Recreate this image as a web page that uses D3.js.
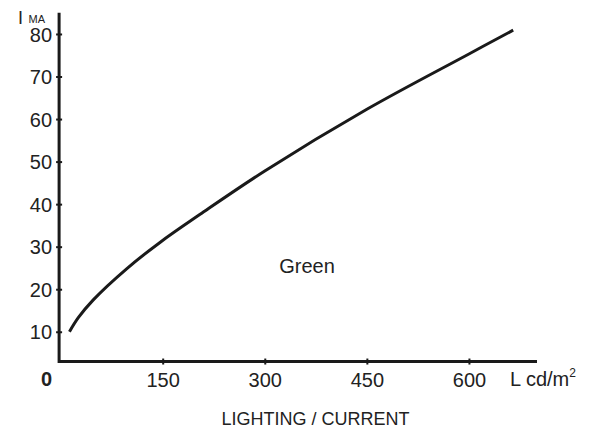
<!DOCTYPE html>
<html>
<head>
<meta charset="utf-8">
<script src="https://cdn.jsdelivr.net/npm/d3@7"></script>
<style>
  body { margin: 0; background: #fff; }
  svg { display: block; font-family: "Liberation Sans", Arial, sans-serif; }
</style>
</head>
<body>
<svg id="chart" width="591" height="431"></svg>
<script>
// luminance (cd/m2) vs current (mA)
const lumValues = [13, 26, 48, 97, 146, 205, 300, 450, 600, 665];
const currentValues = [10, 13.3, 17.5, 24.8, 31.0, 37.6, 47.8, 62.3, 75.3, 80.9];
const xTicks = [150, 300, 450, 600];
const yTicks = [10, 20, 30, 40, 50, 60, 70, 80];

const svg = d3.select("#chart");
const ink = "#1a1a1a";

const x = d3.scaleLinear().domain([0, 700]).range([60.6, 537]);
const y = d3.scaleLinear().domain([0, 85]).range([374.3, 12.7]);
const axisY = y(3); // x axis sits slightly above zero

// x axis
const gx = svg.append("g")
    .attr("transform", "translate(0," + axisY + ")")
    .call(d3.axisBottom(x).tickValues(xTicks).tickSizeInner(3).tickSizeOuter(0));
gx.select(".domain").attr("d", "M" + (x(0) - 2) + ",0H" + x(700))
    .attr("stroke", ink).attr("stroke-width", 3);
gx.selectAll(".tick line").attr("y1", -3).attr("y2", 3)
    .attr("stroke", ink).attr("stroke-width", 2);
gx.selectAll(".tick text")
    .attr("y", 25).attr("dy", null)
    .attr("font-size", 20).attr("fill", "#222");

// y axis
const gy = svg.append("g")
    .attr("transform", "translate(" + (x(0) - 1.5) + ",0)")
    .call(d3.axisLeft(y).tickValues(yTicks).tickSizeInner(3).tickSizeOuter(0));
gy.select(".domain").attr("d", "M0," + (axisY + 1.5) + "V" + y(85))
    .attr("stroke", ink).attr("stroke-width", 3);
gy.selectAll(".tick line").attr("x1", -3).attr("x2", 3)
    .attr("stroke", ink).attr("stroke-width", 2);
gy.selectAll(".tick text")
    .attr("x", -7).attr("dy", "0.36em")
    .attr("font-size", 20).attr("fill", "#222");

// origin label
svg.append("text")
    .attr("x", 46.5).attr("y", 386)
    .attr("text-anchor", "middle")
    .attr("font-size", 20).attr("font-weight", "bold").attr("fill", "#222")
    .text("0");

// axis titles
svg.append("text")
    .attr("x", 18).attr("y", 23.5)
    .attr("font-size", 18).attr("fill", "#222")
    .text("I");
svg.append("text")
    .attr("x", 28.5).attr("y", 23)
    .attr("font-size", 11).attr("fill", "#222")
    .text("MA");

const lab = svg.append("text")
    .attr("x", 510).attr("y", 386)
    .attr("font-size", 20).attr("fill", "#222")
    .text("L cd/m");
lab.append("tspan").attr("dy", -9).attr("font-size", 12).text("2");

svg.append("text")
    .attr("x", 315.5).attr("y", 425)
    .attr("text-anchor", "middle")
    .attr("font-size", 18).attr("fill", "#222")
    .text("LIGHTING / CURRENT");

// curve
const line = d3.line()
    .x(function(d, i) { return x(lumValues[i]); })
    .y(function(d) { return y(d); })
    .curve(d3.curveCatmullRom);

svg.append("path")
    .datum(currentValues)
    .attr("d", line)
    .attr("fill", "none")
    .attr("stroke", ink)
    .attr("stroke-width", 3);

svg.append("text")
    .attr("x", 307).attr("y", 272.5)
    .attr("text-anchor", "middle")
    .attr("font-size", 20).attr("fill", "#222")
    .text("Green");
</script>
</body>
</html>
